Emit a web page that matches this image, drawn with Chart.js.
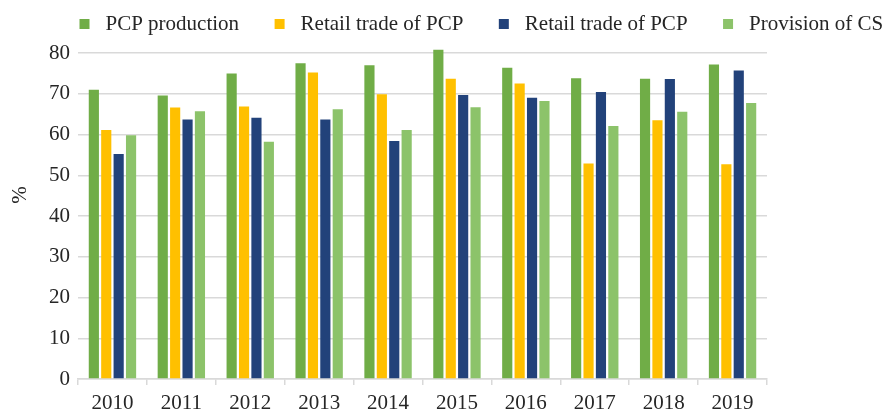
<!DOCTYPE html>
<html>
<head>
<meta charset="utf-8">
<script src="https://cdn.jsdelivr.net/npm/chart.js@4/dist/chart.umd.min.js"></script>
<style>
  html, body { margin: 0; padding: 0; background: #ffffff; }
  #wrap { width: 889px; height: 412px; position: relative; }
</style>
</head>
<body>
<div id="wrap"><canvas id="c"></canvas></div>
<script>
const years = ['2010','2011','2012','2013','2014','2015','2016','2017','2018','2019'];
const seriesNames = ['PCP production','Retail trade of PCP','Retail trade of PCP','Provision of CS'];
const pcpProduction   = [71.0, 69.6, 75.0, 77.5, 77.0, 80.8, 76.4, 73.8, 73.7, 77.2];
const retailTradeA    = [61.1, 66.6, 66.9, 75.2, 69.9, 73.7, 72.5, 52.9, 63.5, 52.7];
const retailTradeB    = [55.2, 63.7, 64.1, 63.7, 58.4, 69.7, 69.0, 70.4, 73.6, 75.7];
const provisionCS     = [59.8, 65.7, 58.2, 66.2, 61.1, 66.7, 68.2, 62.1, 65.6, 67.7];
const yTicks = [0,10,20,30,40,50,60,70,80];
const colors = ['#70AD47','#FFC000','#22427A','#8CC36A'];

const FONT = "'Liberation Serif', 'Times New Roman', serif";

const legendTweak = {
  id: 'legendTweak',
  beforeLayout(chart) {
    const l = chart.legend;
    if (l && !l._tweaked) {
      const origFit = l.fit.bind(l);
      l.fit = function () { origFit(); this.height = 53; };
      l._tweaked = true;
    }
  },
  afterLayout(chart) {
    const l = chart.legend;
    if (l) {
      const DX = 44, DY = 16.5;
      l.left += DX; l.right += DX;
      l.top -= DY; l.bottom -= DY;
    }
    // raise the "%" axis title slightly (title is centred on the scale's top/bottom)
    const y = chart.scales.y;
    if (y) { y.bottom -= 42; }
  }
};

new Chart(document.getElementById('c'), {
  type: 'bar',
  data: {
    labels: years,
    datasets: [pcpProduction, retailTradeA, retailTradeB, provisionCS].map((d, i) => ({
      label: seriesNames[i],
      data: d,
      backgroundColor: colors[i],
      borderWidth: 0,
      clip: false,
      categoryPercentage: 0.72,
      barPercentage: 0.82
    }))
  },
  options: {
    responsive: true,
    maintainAspectRatio: false,
    animation: false,
    layout: { padding: 0 },
    plugins: {
      legend: {
        position: 'top',
        align: 'start',
        labels: {
          usePointStyle: true,
          pointStyle: 'rect',
          boxWidth: 22,
          boxHeight: 10,
          padding: 30,
          color: '#262626',
          font: { family: FONT, size: 21 }
        }
      },
      tooltip: { enabled: false }
    },
    scales: {
      x: {
        grid: { display: true, drawOnChartArea: false, drawTicks: true, tickLength: 6, color: '#d9d9d9', lineWidth: 1.5 },
        border: { display: true, color: '#d9d9d9', width: 1.5 },
        ticks: { color: '#262626', font: { family: FONT, size: 21 }, padding: 6, maxRotation: 0 },
        afterFit(s) { s.height = 33; }
      },
      y: {
        min: 0, max: 80,
        afterBuildTicks(s) { s.ticks = yTicks.map(v => ({ value: v })); },
        grid: { color: '#d9d9d9', lineWidth: 1.5, drawTicks: false },
        border: { display: false },
        ticks: { color: '#262626', font: { family: FONT, size: 21 }, padding: 8 },
        title: { display: true, text: '%', color: '#262626', font: { family: FONT, size: 21 }, padding: { top: 8, bottom: 4 } },
        afterFit(s) { s.width = 78; }
      },
      y2: {
        position: 'right',
        display: true,
        min: 0, max: 80,
        grid: { display: false, drawTicks: false },
        border: { display: false },
        ticks: { display: false },
        afterFit(s) { s.width = 122; }
      }
    }
  },
  plugins: [legendTweak]
});
</script>
</body>
</html>
